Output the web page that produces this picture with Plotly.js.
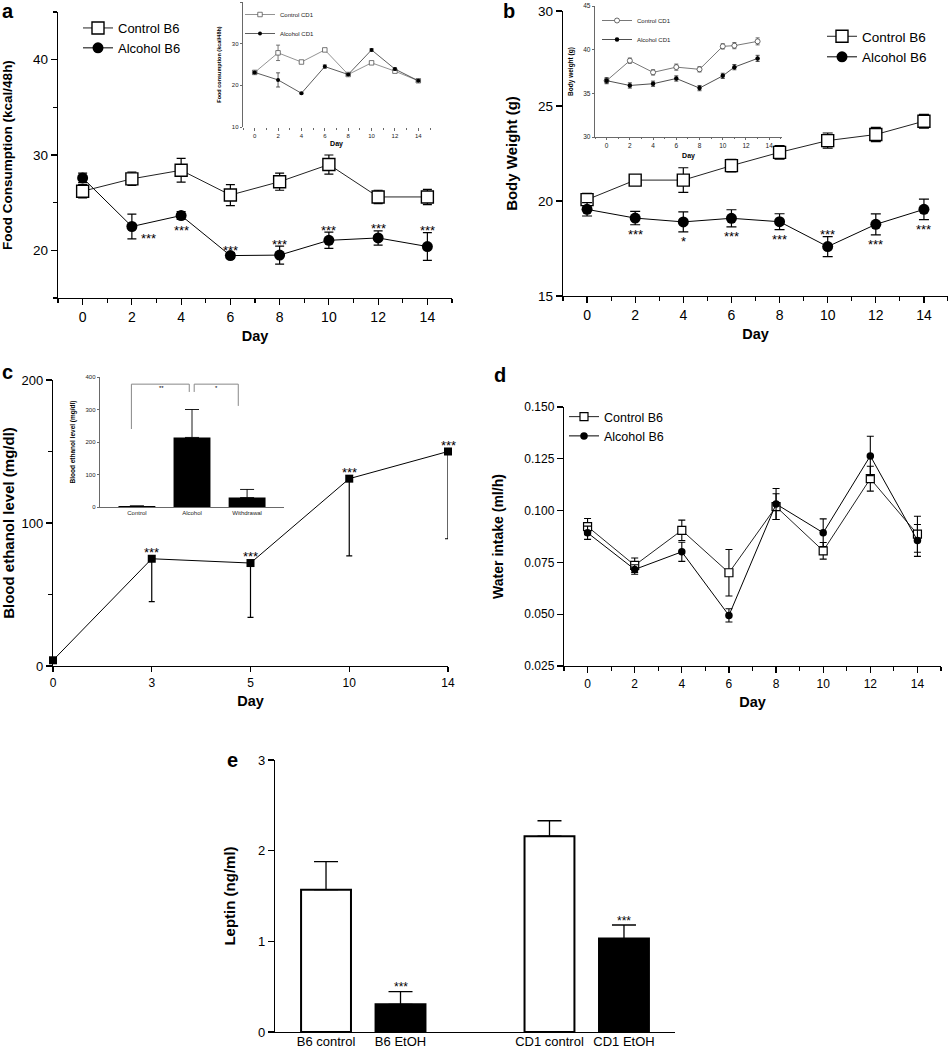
<!DOCTYPE html>
<html>
<head>
<meta charset="utf-8">
<script src="https://cdn.plot.ly/plotly-3.0.1.min.js"></script>
<style>
  html, body { margin: 0; padding: 0; background: #ffffff; }
  #chart { width: 948px; height: 1050px; }
</style>
</head>
<body>
<div id="chart"></div>
<script>
// ---------------- DATA ----------------
// Panel a: food consumption (kcal/48h), B6 mice
const days = [0, 2, 4, 6, 8, 10, 12, 14];
const foodControlB6 = [26.2, 27.5, 28.4, 25.8, 27.2, 29.0, 25.6, 25.6];
const foodControlB6Err = [0.7, 0.7, 1.25, 1.1, 0.9, 1.0, 0.7, 0.8];
const foodAlcoholB6 = [27.6, 22.5, 23.65, 19.45, 19.5, 21.05, 21.3, 20.4];
const foodAlcoholB6Err = [0.5, 1.3, 0.4, 0.3, 0.95, 0.85, 0.75, 1.45];
const foodStars = ['', '***', '***', '***', '***', '***', '***', '***'];

// Panel a inset: food consumption, CD1 mice
const foodControlCD1 = [23.1, 27.8, 25.6, 28.5, 22.6, 25.4, 23.4, 21.1];
const foodControlCD1Err = [0.3, 1.85, 0.2, 0.2, 0.2, 0.3, 0.3, 0.2];
const foodAlcoholCD1 = [23.1, 21.3, 18.1, 24.5, 22.6, 28.5, 23.9, 21.1];
const foodAlcoholCD1Err = [0.3, 1.7, 0.2, 0.4, 0.2, 0.3, 0.3, 0.2];

// Panel b: body weight (g), B6 mice
const bwControlB6 = [20.07, 21.1, 21.1, 21.86, 22.56, 23.18, 23.5, 24.2];
const bwControlB6Err = [0.33, 0.2, 0.65, 0.33, 0.36, 0.4, 0.37, 0.36];
const bwAlcoholB6 = [19.56, 19.1, 18.9, 19.09, 18.91, 17.6, 18.77, 19.56];
const bwAlcoholB6Err = [0.35, 0.35, 0.53, 0.45, 0.42, 0.53, 0.55, 0.54];
const bwStars = ['', '***', '*', '***', '***', '***', '***', '***'];

// Panel b inset: body weight, CD1 mice
const cd1Days = [0, 2, 4, 6, 8, 10, 11, 13];
const bwControlCD1 = [36.45, 38.74, 37.4, 38.0, 37.75, 40.38, 40.46, 40.95];
const bwControlCD1Err = [0.25, 0.3, 0.3, 0.35, 0.3, 0.3, 0.35, 0.4];
const bwAlcoholCD1 = [36.45, 35.9, 36.1, 36.7, 35.6, 37.0, 38.0, 39.0];
const bwAlcoholCD1Err = [0.35, 0.3, 0.3, 0.3, 0.3, 0.3, 0.3, 0.35];

// Panel c: blood ethanol level (mg/dl)
const beDays = ['0', '3', '5', '10', '14'];
const beLevel = [4, 75, 72, 131, 150];
const beErrMinus = [0, 30, 38, 54, 61];
const beStars = ['', '***', '***', '***', '***'];

// Panel c inset
const beGroups = ['Control', 'Alcohol', 'Withdrawal'];
const beGroupLevel = [3, 214, 29];
const beGroupErr = [0, 86, 25];

// Panel d: water intake (ml/h)
const waterControlB6 = [0.0923, 0.0736, 0.0905, 0.0700, 0.1019, 0.0806, 0.1154, 0.0886];
const waterControlB6Err = [0.0039, 0.0035, 0.0049, 0.0112, 0.0062, 0.0040, 0.0060, 0.0087];
const waterAlcoholB6 = [0.0893, 0.0716, 0.0801, 0.0494, 0.1032, 0.0893, 0.1264, 0.0856];
const waterAlcoholB6Err = [0.0032, 0.0023, 0.0046, 0.0032, 0.0075, 0.0067, 0.0095, 0.0077];

// Panel e: leptin (ng/ml)
const leptinGroups = ['B6 control', 'B6 EtOH', 'CD1 control', 'CD1 EtOH'];
const leptinLevel = [1.57, 0.305, 2.16, 1.03];
const leptinErr = [0.31, 0.14, 0.17, 0.15];
const leptinStars = ['', '***', '', '***'];

// ---------------- HELPERS ----------------
const W = 948, H = 1050;
const fx = px => px / W;
const fy = py => 1 - py / H;
const FONT = 'Arial, "Liberation Sans", Helvetica, sans-serif';
const zeros = arr => arr.map(() => 0);

function axis(extra) {
  return Object.assign({
    showline: true, linecolor: 'black', linewidth: 1.2,
    ticks: 'outside', ticklen: 6, tickwidth: 1.2, tickcolor: 'black',
    showgrid: false, zeroline: false, fixedrange: true, automargin: false,
    tickfont: { family: FONT, size: 14, color: 'black' }
  }, extra);
}
function ttl(text, size, standoff) {
  return { text: text, font: { family: FONT, size: size, weight: 700, color: 'black' }, standoff: standoff };
}
function minor(len, color, w) {
  return { dtick: 1, ticks: 'outside', ticklen: len, tickcolor: color || 'black', tickwidth: w || 1.2, showgrid: false };
}
function errBar(arr, width, thick, color) {
  return { type: 'data', array: arr, color: color || 'black', thickness: thick || 1.2, width: width };
}

// ---------------- TRACES ----------------
const traces = [
  // Panel a
  { type: 'scatter', mode: 'lines+markers', name: 'Control B6', x: days, y: foodControlB6,
    error_y: errBar(foodControlB6Err, 4.5),
    line: { color: '#222', width: 1 },
    marker: { symbol: 'square', size: 12, color: 'white', line: { color: 'black', width: 1.4 } },
    xaxis: 'x', yaxis: 'y', legend: 'legend', cliponaxis: false },
  { type: 'scatter', mode: 'lines+markers', name: 'Alcohol B6', x: days, y: foodAlcoholB6,
    error_y: errBar(foodAlcoholB6Err, 4.5),
    line: { color: 'black', width: 1 },
    marker: { symbol: 'circle', size: 11, color: 'black' },
    xaxis: 'x', yaxis: 'y', legend: 'legend', cliponaxis: false },
  // Panel b
  { type: 'scatter', mode: 'lines+markers', name: 'Control B6', x: days, y: bwControlB6,
    error_y: errBar(bwControlB6Err, 5),
    line: { color: '#222', width: 1 },
    marker: { symbol: 'square', size: 12, color: 'white', line: { color: 'black', width: 1.4 } },
    xaxis: 'x2', yaxis: 'y2', legend: 'legend2', cliponaxis: false },
  { type: 'scatter', mode: 'lines+markers', name: 'Alcohol B6', x: days, y: bwAlcoholB6,
    error_y: errBar(bwAlcoholB6Err, 5),
    line: { color: 'black', width: 1 },
    marker: { symbol: 'circle', size: 11, color: 'black' },
    xaxis: 'x2', yaxis: 'y2', legend: 'legend2', cliponaxis: false },
  // Panel a inset
  { type: 'scatter', mode: 'lines+markers', name: 'Control CD1', x: days, y: foodControlCD1,
    error_y: errBar(foodControlCD1Err, 2, 0.8, '#555'),
    line: { color: '#777', width: 0.8 },
    marker: { symbol: 'square', size: 4.5, color: 'white', line: { color: '#555', width: 0.8 } },
    xaxis: 'x3', yaxis: 'y3', legend: 'legend4', cliponaxis: false },
  { type: 'scatter', mode: 'lines+markers', name: 'Alcohol CD1', x: days, y: foodAlcoholCD1,
    error_y: errBar(foodAlcoholCD1Err, 2, 0.8, '#333'),
    line: { color: '#333', width: 0.8 },
    marker: { symbol: 'circle', size: 4, color: 'black' },
    xaxis: 'x3', yaxis: 'y3', legend: 'legend4', cliponaxis: false },
  // Panel b inset
  { type: 'scatter', mode: 'lines+markers', name: 'Control CD1', x: cd1Days, y: bwControlCD1,
    error_y: errBar(bwControlCD1Err, 2, 0.8, '#444'),
    line: { color: '#555', width: 0.8 },
    marker: { symbol: 'circle', size: 5, color: 'white', line: { color: '#444', width: 0.8 } },
    xaxis: 'x4', yaxis: 'y4', legend: 'legend5', cliponaxis: false },
  { type: 'scatter', mode: 'lines+markers', name: 'Alcohol CD1', x: cd1Days, y: bwAlcoholCD1,
    error_y: errBar(bwAlcoholCD1Err, 2, 0.8, '#222'),
    line: { color: '#222', width: 0.8 },
    marker: { symbol: 'circle', size: 4.5, color: 'black' },
    xaxis: 'x4', yaxis: 'y4', legend: 'legend5', cliponaxis: false },
  // Panel c
  { type: 'scatter', mode: 'lines+markers', name: 'Blood ethanol', x: beDays, y: beLevel,
    error_y: { type: 'data', symmetric: false, array: zeros(beLevel), arrayminus: beErrMinus,
               color: 'black', thickness: 1.2, width: 3 },
    line: { color: 'black', width: 1 },
    marker: { symbol: 'square', size: 8, color: 'black' },
    xaxis: 'x5', yaxis: 'y5', showlegend: false, cliponaxis: false },
  // Panel c inset
  { type: 'bar', name: 'Blood ethanol (groups)', x: beGroups, y: beGroupLevel, width: 0.67,
    marker: { color: 'black', line: { width: 0 } },
    error_y: { type: 'data', symmetric: false, array: beGroupErr, arrayminus: zeros(beGroupErr),
               color: 'black', thickness: 0.9, width: 7 },
    xaxis: 'x6', yaxis: 'y6', showlegend: false },
  // Panel d
  { type: 'scatter', mode: 'lines+markers', name: 'Control B6', x: days, y: waterControlB6,
    error_y: errBar(waterControlB6Err, 3.5, 1.1),
    line: { color: '#222', width: 1 },
    marker: { symbol: 'square', size: 8, color: 'white', line: { color: 'black', width: 1.2 } },
    xaxis: 'x7', yaxis: 'y7', legend: 'legend3', cliponaxis: false },
  { type: 'scatter', mode: 'lines+markers', name: 'Alcohol B6', x: days, y: waterAlcoholB6,
    error_y: errBar(waterAlcoholB6Err, 3.5, 1.1),
    line: { color: 'black', width: 1 },
    marker: { symbol: 'circle', size: 7.5, color: 'black' },
    xaxis: 'x7', yaxis: 'y7', legend: 'legend3', cliponaxis: false },
  // Panel e
  { type: 'bar', name: 'Leptin', x: leptinGroups, y: leptinLevel, width: 0.67,
    marker: { color: leptinGroups.map(g => g.indexOf('EtOH') >= 0 ? 'black' : 'white'),
              line: { color: 'black', width: 2 } },
    error_y: { type: 'data', symmetric: false, array: leptinErr, arrayminus: zeros(leptinErr),
               color: 'black', thickness: 1.3, width: 12 },
    xaxis: 'x8', yaxis: 'y8', showlegend: false }
];

// ---------------- ANNOTATIONS ----------------
const annotations = [];
function star(text, x, y, xref, yref, size, xshift, yshift) {
  annotations.push({ text: text, x: x, y: y, xref: xref, yref: yref, showarrow: false,
    xanchor: 'center', yanchor: 'middle', xshift: xshift || 0, yshift: yshift || 0,
    font: { family: FONT, size: size, color: 'black' } });
}
// Panel a stars (above error bars; day 2 and 4 placed beside/below the point)
foodStars.forEach((s, i) => {
  if (!s) return;
  if (i === 1) star(s, days[i], foodAlcoholB6[i], 'x', 'y', 13, 17, -12);
  else if (i === 2) star(s, days[i], foodAlcoholB6[i], 'x', 'y', 13, 0, -15);
  else star(s, days[i], foodAlcoholB6[i] + foodAlcoholB6Err[i], 'x', 'y', 13, 0, 2);
});
// Panel b stars (below lower error bar; day 10 above)
bwStars.forEach((s, i) => {
  if (!s) return;
  if (i === 5) star(s, days[i], bwAlcoholB6[i] + bwAlcoholB6Err[i], 'x2', 'y2', 13, 0, 2);
  else star(s, days[i], bwAlcoholB6[i] - bwAlcoholB6Err[i], 'x2', 'y2', 13, 0, -10);
});
// Panel c stars (category axis: position by category index)
beStars.forEach((s, i) => {
  if (!s) return;
  star(s, i, beLevel[i], 'x5', 'y5', 13, 0, 6.5);
});
// Panel e stars
leptinStars.forEach((s, i) => {
  if (!s) return;
  star(s, leptinGroups[i], leptinLevel[i] + leptinErr[i], 'x8', 'y8', 12, 0, 4.5);
});
// Inset c significance stars
star('**', 0.45, 366, 'x6', 'y6', 6, 0, 0);
star('*', 1.45, 366, 'x6', 'y6', 6, 0, 0);

// Panel letters
[['a', 8, 11], ['b', 509, 11], ['c', 7, 372], ['d', 500, 375], ['e', 232, 760]].forEach(p => {
  annotations.push({ text: p[0], x: fx(p[1]), y: fy(p[2]), xref: 'paper', yref: 'paper',
    showarrow: false, xanchor: 'center', yanchor: 'middle',
    font: { family: FONT, size: 20, weight: 700, color: 'black' } });
});

// Inset c brackets
const shapes = [
  { type: 'path', xref: 'x6', yref: 'y6', path: 'M -0.1,240 L -0.1,378 L 0.95,378 L 0.95,354',
    line: { color: '#888', width: 1 } },
  { type: 'path', xref: 'x6', yref: 'y6', path: 'M 1.04,354 L 1.04,378 L 1.84,378 L 1.84,311',
    line: { color: '#888', width: 1 } }
];

// ---------------- LAYOUT ----------------
const legendBase = { xanchor: 'left', yanchor: 'top', bgcolor: 'rgba(0,0,0,0)', borderwidth: 0,
  itemclick: false, itemdoubleclick: false };

const layout = {
  width: W, height: H,
  margin: { l: 0, r: 0, t: 0, b: 0 },
  paper_bgcolor: 'white', plot_bgcolor: 'rgba(0,0,0,0)',
  font: { family: FONT, color: 'black' },
  hovermode: false,
  barmode: 'overlay',

  // Panel a
  xaxis: axis({ domain: [fx(58), fx(452)], range: [-1, 15], anchor: 'y', tick0: 0, dtick: 2,
    minor: minor(4), title: ttl('Day', 14.5, 6) }),
  yaxis: axis({ domain: [fy(298), fy(12)], range: [15, 45], anchor: 'x', tick0: 0, dtick: 10,
    minor: Object.assign(minor(4), { dtick: 5 }), tickfont: { family: FONT, size: 13.5, color: 'black' },
    title: ttl('Food Consumption (kcal/48h)', 13.5, 18) }),

  // Panel b
  xaxis2: axis({ domain: [fx(563), 1], range: [-1, 15], anchor: 'y2', tick0: 0, dtick: 2,
    minor: minor(4), title: ttl('Day', 14.5, 6) }),
  yaxis2: axis({ domain: [fy(296), fy(11)], range: [15, 30], anchor: 'x2', tick0: 0, dtick: 5,
    tickfont: { family: FONT, size: 13.5, color: 'black' },
    title: ttl('Body Weight (g)', 15, 16) }),

  // Panel a inset
  xaxis3: axis({ domain: [fx(243), fx(430)], range: [-1, 15], anchor: 'y3', showline: false,
    tick0: 0, dtick: 2, ticklen: 2.5, tickwidth: 0.8, tickcolor: '#444',
    minor: minor(1.5, '#444', 0.8), tickfont: { family: FONT, size: 6, color: '#222' },
    title: ttl('Day', 7, 3) }),
  yaxis3: axis({ domain: [fy(127), fy(2)], range: [10, 40], anchor: 'x3', tick0: 0, dtick: 10,
    linecolor: '#444', linewidth: 0.8, ticklen: 2.5, tickwidth: 0.8, tickcolor: '#444',
    tickfont: { family: FONT, size: 6, color: '#222' },
    title: ttl('Food consumption (kcal/48h)', 5.5, 9) }),

  // Panel b inset
  xaxis4: axis({ domain: [fx(595), fx(782)], range: [-1, 15.1], anchor: 'y4',
    tick0: 0, dtick: 2, linecolor: '#444', linewidth: 0.8, ticklen: 2.5, tickwidth: 0.8, tickcolor: '#444',
    minor: minor(1.5, '#444', 0.8), tickfont: { family: FONT, size: 6.5, color: '#222' },
    title: ttl('Day', 7, 4) }),
  yaxis4: axis({ domain: [fy(137), fy(6)], range: [30, 45], anchor: 'x4', tick0: 0, dtick: 5,
    linecolor: '#444', linewidth: 0.8, ticklen: 2.5, tickwidth: 0.8, tickcolor: '#444',
    tickfont: { family: FONT, size: 6.5, color: '#222' },
    title: ttl('Body weight (g)', 6.5, 8) }),

  // Panel c
  xaxis5: axis({ type: 'category', domain: [fx(53), fx(448)], range: [0, 4], anchor: 'y5',
    ticklen: 5, tickfont: { family: FONT, size: 12, color: 'black' },
    title: ttl('Day', 14.5, 7) }),
  yaxis5: axis({ domain: [fy(666), fy(380)], range: [0, 200], anchor: 'x5', tick0: 0, dtick: 100,
    minor: Object.assign(minor(4), { dtick: 50 }), tickfont: { family: FONT, size: 13, color: 'black' },
    title: ttl('Blood ethanol level (mg/dl)', 15, 8) }),

  // Panel c inset
  xaxis6: axis({ type: 'category', domain: [fx(100), fx(284)], range: [-0.67, 2.67], anchor: 'y6',
    ticks: '', linewidth: 0.8, linecolor: '#444', tickfont: { family: FONT, size: 6, color: '#222' } }),
  yaxis6: axis({ domain: [fy(507), fy(377)], range: [0, 400], anchor: 'x6', tick0: 0, dtick: 100,
    linecolor: '#444', linewidth: 0.8, ticklen: 2.5, tickwidth: 0.8, tickcolor: '#444',
    tickfont: { family: FONT, size: 6, color: '#222' },
    title: ttl('Blood ethanol level (mg/dl)', 6.5, 9) }),

  // Panel d
  xaxis7: axis({ domain: [fx(564), fx(941)], range: [-1, 15], anchor: 'y7', tick0: 0, dtick: 2,
    minor: minor(4), tickfont: { family: FONT, size: 12, color: 'black' },
    title: ttl('Day', 14.5, 7) }),
  yaxis7: axis({ domain: [fy(666), fy(407)], range: [0.025, 0.15], anchor: 'x7', tick0: 0.025, dtick: 0.025,
    tickformat: '.3f', tickfont: { family: FONT, size: 12, color: 'black' },
    title: ttl('Water intake (ml/h)', 14, 17) }),

  // Panel e
  xaxis8: axis({ type: 'category', domain: [fx(275), fx(675)], range: [-0.685, 4.685], anchor: 'y8',
    ticks: '', ticklabelstandoff: -3, categoryorder: 'array',
    categoryarray: [leptinGroups[0], leptinGroups[1], ' ', leptinGroups[2], leptinGroups[3]],
    tickfont: { family: FONT, size: 13, color: 'black' } }),
  yaxis8: axis({ domain: [fy(1032), fy(760)], range: [0, 3], anchor: 'x8', tick0: 0, dtick: 1,
    tickfont: { family: FONT, size: 13, color: 'black' },
    title: ttl('Leptin (ng/ml)', 15, 18) }),

  legend: Object.assign({ x: fx(78), y: fy(13), font: { family: FONT, size: 13, color: 'black' } }, legendBase),
  legend2: Object.assign({ x: fx(822), y: fy(21), font: { family: FONT, size: 13.5, color: 'black' } }, legendBase),
  legend3: Object.assign({ x: fx(564), y: fy(402), font: { family: FONT, size: 12.5, color: 'black' } }, legendBase),
  legend4: Object.assign({ x: fx(240), y: fy(0), font: { family: FONT, size: 6, color: '#222' } }, legendBase),
  legend5: Object.assign({ x: fx(597), y: fy(6), font: { family: FONT, size: 6, color: '#222' } }, legendBase),

  annotations: annotations,
  shapes: shapes
};

Plotly.newPlot('chart', traces, layout, { displayModeBar: false, staticPlot: true });
</script>
</body>
</html>
